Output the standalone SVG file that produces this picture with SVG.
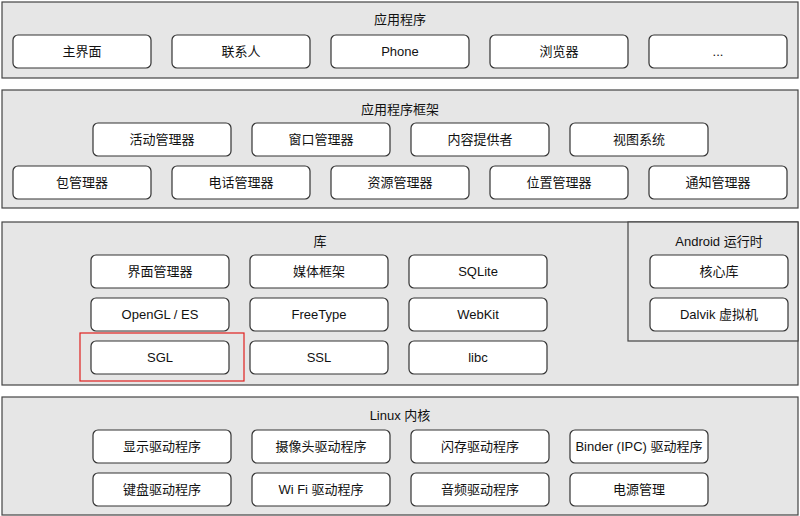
<svg xmlns="http://www.w3.org/2000/svg" width="800" height="516" viewBox="0 0 800 516">
<style>
.layer{fill:#e6e6e6;stroke:#444;stroke-width:1.2}
.box{fill:#fff;stroke:#333;stroke-width:1.2}
text{font-family:"Liberation Sans","Noto Sans CJK SC",sans-serif;font-size:13px;fill:#111;text-anchor:middle;dominant-baseline:central}
</style>
<rect width="800" height="516" fill="#fff"/>
<g id="app"><rect class="layer" x="2" y="2" width="796" height="76"/><text x="400" y="19">应用程序</text>
<g id="app1"><rect class="box" x="13" y="35" width="138" height="33" rx="5"/><text x="82" y="51">主界面</text></g>
<g id="app2"><rect class="box" x="172" y="35" width="138" height="33" rx="5"/><text x="241" y="51">联系人</text></g>
<g id="app3"><rect class="box" x="331" y="35" width="138" height="33" rx="5"/><text x="400" y="51">Phone</text></g>
<g id="app4"><rect class="box" x="490" y="35" width="138" height="33" rx="5"/><text x="559" y="51">浏览器</text></g>
<g id="app5"><rect class="box" x="649" y="35" width="138" height="33" rx="5"/><text x="718" y="51">...</text></g>
</g>
<g id="fw"><rect class="layer" x="2" y="90" width="796" height="118"/><text x="400" y="109">应用程序框架</text>
<g id="fw1"><rect class="box" x="93" y="123" width="138" height="33" rx="5"/><text x="162" y="139">活动管理器</text></g>
<g id="fw2"><rect class="box" x="252" y="123" width="138" height="33" rx="5"/><text x="321" y="139">窗口管理器</text></g>
<g id="fw3"><rect class="box" x="411" y="123" width="138" height="33" rx="5"/><text x="480" y="139">内容提供者</text></g>
<g id="fw4"><rect class="box" x="570" y="123" width="138" height="33" rx="5"/><text x="639" y="139">视图系统</text></g>
<g id="fw5"><rect class="box" x="13" y="166" width="138" height="33" rx="5"/><text x="82" y="182">包管理器</text></g>
<g id="fw6"><rect class="box" x="172" y="166" width="138" height="33" rx="5"/><text x="241" y="182">电话管理器</text></g>
<g id="fw7"><rect class="box" x="331" y="166" width="138" height="33" rx="5"/><text x="400" y="182">资源管理器</text></g>
<g id="fw8"><rect class="box" x="490" y="166" width="138" height="33" rx="5"/><text x="559" y="182">位置管理器</text></g>
<g id="fw9"><rect class="box" x="649" y="166" width="138" height="33" rx="5"/><text x="718" y="182">通知管理器</text></g>
</g>
<g id="lib"><rect class="layer" x="2" y="222" width="796" height="163"/><text x="320" y="241">库</text>
<g id="lib1"><rect class="box" x="91" y="255" width="138" height="33" rx="5"/><text x="160" y="271">界面管理器</text></g>
<g id="lib2"><rect class="box" x="250" y="255" width="138" height="33" rx="5"/><text x="319" y="271">媒体框架</text></g>
<g id="lib3"><rect class="box" x="409" y="255" width="138" height="33" rx="5"/><text x="478" y="271">SQLite</text></g>
<g id="lib4"><rect class="box" x="91" y="298" width="138" height="33" rx="5"/><text x="160" y="314">OpenGL / ES</text></g>
<g id="lib5"><rect class="box" x="250" y="298" width="138" height="33" rx="5"/><text x="319" y="314">FreeType</text></g>
<g id="lib6"><rect class="box" x="409" y="298" width="138" height="33" rx="5"/><text x="478" y="314">WebKit</text></g>
<g id="lib7"><rect class="box" x="91" y="341" width="138" height="33" rx="5"/><text x="160" y="357">SGL</text></g>
<g id="lib8"><rect class="box" x="250" y="341" width="138" height="33" rx="5"/><text x="319" y="357">SSL</text></g>
<g id="lib9"><rect class="box" x="409" y="341" width="138" height="33" rx="5"/><text x="478" y="357">libc</text></g>
<rect x="80" y="333" width="164" height="48" fill="none" stroke="#e0201e" stroke-width="1.2"/>
</g>
<g id="rt"><rect class="layer" x="628" y="222" width="170" height="119"/><text x="719" y="241">Android 运行时</text>
<g id="rt1"><rect class="box" x="650" y="255" width="138" height="33" rx="5"/><text x="719" y="271">核心库</text></g>
<g id="rt2"><rect class="box" x="650" y="298" width="138" height="33" rx="5"/><text x="719" y="314">Dalvik 虚拟机</text></g>
</g>
<g id="linux"><rect class="layer" x="2" y="397" width="796" height="118"/><text x="400" y="415">Linux 内核</text>
<g id="k1"><rect class="box" x="93" y="430" width="138" height="33" rx="5"/><text x="162" y="446">显示驱动程序</text></g>
<g id="k2"><rect class="box" x="252" y="430" width="138" height="33" rx="5"/><text x="321" y="446">摄像头驱动程序</text></g>
<g id="k3"><rect class="box" x="411" y="430" width="138" height="33" rx="5"/><text x="480" y="446">闪存驱动程序</text></g>
<g id="k4"><rect class="box" x="570" y="430" width="138" height="33" rx="5"/><text x="639" y="446">Binder (IPC) 驱动程序</text></g>
<g id="k5"><rect class="box" x="93" y="473" width="138" height="33" rx="5"/><text x="162" y="489">键盘驱动程序</text></g>
<g id="k6"><rect class="box" x="252" y="473" width="138" height="33" rx="5"/><text x="321" y="489">Wi Fi 驱动程序</text></g>
<g id="k7"><rect class="box" x="411" y="473" width="138" height="33" rx="5"/><text x="480" y="489">音频驱动程序</text></g>
<g id="k8"><rect class="box" x="570" y="473" width="138" height="33" rx="5"/><text x="639" y="489">电源管理</text></g>
</g>
<g id="connectors"/>
</svg>
